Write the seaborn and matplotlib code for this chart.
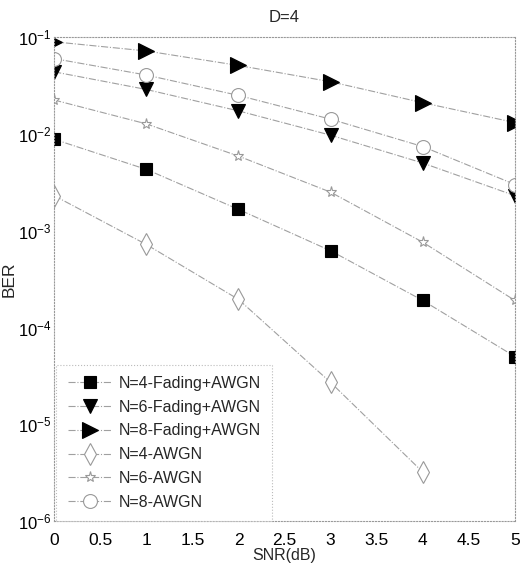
import numpy as np
import pandas as pd
import matplotlib
matplotlib.use("Agg")
import matplotlib.pyplot as plt
import seaborn as sns

sns.set_style("white")
plt.rcParams['font.family'] = ['Liberation Sans', 'DejaVu Sans']
plt.rcParams['mathtext.default'] = 'regular'

# data
snr = [0, 1, 2, 3, 4, 5]
n4_fading = [0.0088, 0.0043, 0.00166, 0.00062, 0.00019, 5.0e-5]
n6_fading = [0.0438, 0.0288, 0.0173, 0.0097, 0.0050, 0.0023]
n8_fading = [0.0895, 0.072, 0.051, 0.0346, 0.021, 0.0131]
n4_awgn = [0.0023, 0.00072, 0.000195, 2.7e-5, 3.2e-6]
n6_awgn = [0.0224, 0.0127, 0.0059, 0.0025, 0.00076, 0.00019]
n8_awgn = [0.060, 0.0406, 0.025, 0.0142, 0.0074, 0.0030]

labels = ["N=4-Fading+AWGN", "N=6-Fading+AWGN", "N=8-Fading+AWGN",
          "N=4-AWGN", "N=6-AWGN", "N=8-AWGN"]
series = [n4_fading, n6_fading, n8_fading, n4_awgn, n6_awgn, n8_awgn]
markers = ["s", "v", ">", "d", "*", "o"]
filled = [True, True, True, False, False, False]
msizes = [8, 10, 11, 11, 8, 10]

fig = plt.figure(figsize=(5.26, 5.76), dpi=100)
ax = fig.add_axes([0.103, 0.0955, 0.876, 0.840])

for lab, vals, m, f, ms in zip(labels, series, markers, filled, msizes):
    xs = snr[:len(vals)]
    sns.lineplot(x=xs, y=vals, ax=ax, label=lab, color="#a0a0a0",
                 linestyle="-.", linewidth=0.8, marker=m, markersize=ms,
                 markerfacecolor="black" if f else "white",
                 markeredgecolor="black" if f else "#999999",
                 markeredgewidth=0.8)

ax.set_yscale("log")
ax.set_xlim(0, 5)
ax.set_ylim(1e-6, 1e-1)
ax.set_xticks(np.arange(0, 5.01, 0.5))
ax.set_xticklabels(["0", "0.5", "1", "1.5", "2", "2.5", "3", "3.5", "4", "4.5", "5"])
ax.tick_params(axis="both", labelsize=12.5, direction="in", length=3, colors="#aaaaaa",
               labelcolor="black")
ax.tick_params(axis="y", labelsize=12)
ax.tick_params(axis="x", pad=9)
ax.tick_params(axis="y", pad=2)
ax.tick_params(axis="y", which="minor", length=0)
for s in ax.spines.values():
    s.set_linestyle(":")
    s.set_color("#999999")
    s.set_linewidth(0.8)

ax.set_title("D=4", fontsize=12, pad=11)
ax.set_xlabel("SNR(dB)", fontsize=11.5, labelpad=0)
ax.set_ylabel("BER", fontsize=12.5, labelpad=1)

leg = ax.legend(loc="lower left", bbox_to_anchor=(0.005, 0.0), fontsize=11.5,
                frameon=True, fancybox=False, borderaxespad=0.0,
                handlelength=2.8, handletextpad=0.4, labelspacing=0.55,
                borderpad=0.7)
leg.get_frame().set_edgecolor("#aaaaaa")
leg.get_frame().set_linestyle(":")
leg.get_frame().set_linewidth(0.8)

fig.savefig("out.png", dpi=100)
